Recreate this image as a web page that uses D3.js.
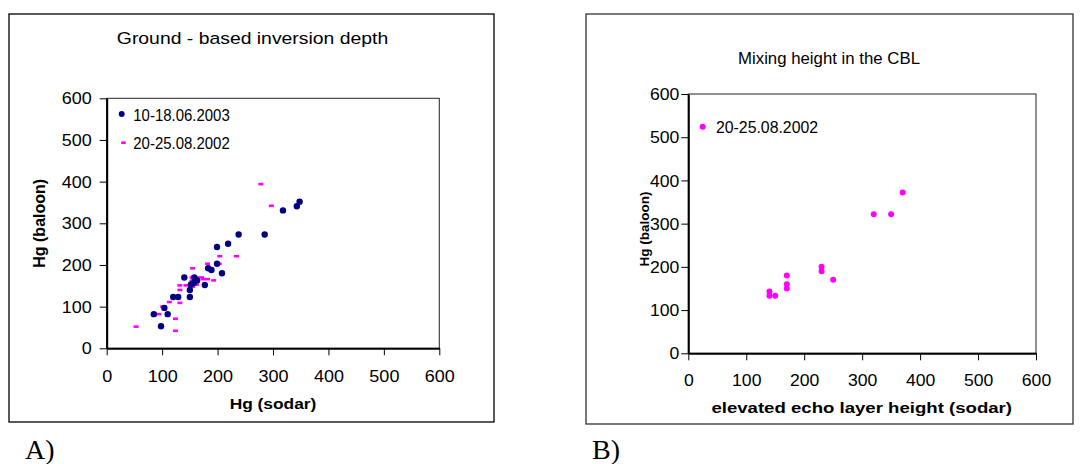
<!DOCTYPE html>
<html><head><meta charset="utf-8">
<script src="https://cdn.jsdelivr.net/npm/d3@7"></script>
<style>body{margin:0;background:#fff}svg{display:block}</style>
</head><body>
<script>
// ---- data ----
const ticks = [0,100,200,300,400,500,600];
const tickLabels = ["0","100","200","300","400","500","600"];
const titleA = "Ground - based inversion depth";
const titleB = "Mixing height in the CBL";
const xLabelA = "Hg (sodar)";
const xLabelB = "elevated echo layer height (sodar)";
const yLabel = "Hg (baloon)";
const seriesNames = ["10-18.06.2003","20-25.08.2002"];
// A) 10-18.06.2003 (sodar, baloon)
const june2003X = [85,98,104,110,120,129,140,150,150,152,157,158,163,177,183,189,199,199,208,219,238,285,318,343,348];
const june2003Y = [82,53,97,82,123,123,170,123,140,153,157,170,163,152,192,188,243,203,180,251,273,273,331,341,352];
// A) 20-25.08.2002
const aug2002X = [53,94,101,104,113,124,124,132,132,132,143,155,154,154,155,163,163,162,171,174,182,182,182,193,203,204,234,278,297];
const aug2002Y = [52,82,100,100,111,71,42,109,140,151,151,192,170,162,148,170,163,153,170,166,166,192,203,163,203,221,221,394,342];
// B) 20-25.08.2002 (elevated echo layer)
const mixX = [140,140,150,170,170,170,230,230,250,320,350,370];
const mixY = [143,133,133,180,160,150,200,190,170,322,322,372];

const W=1080,H=464;
const svg=d3.select("body").append("svg").attr("width",W).attr("height",H);
const SANS="Arial, 'Liberation Sans', sans-serif";
function txt(x,y,s,o){
  o=o||{};
  return svg.append("text")
    .attr("transform",`translate(${x},${y}) rotate(${o.rot||0}) scale(${o.sx||1},1)`)
    .attr("text-anchor",o.anchor||"start")
    .attr("font-family",o.family||SANS)
    .attr("font-size",o.size||16)
    .attr("font-weight",o.weight||"normal")
    .attr("fill","#000")
    .text(s);
}
// boxes
svg.append("rect").attr("x",9).attr("y",14).attr("width",485).attr("height",408)
  .attr("fill","none").attr("stroke","#000").attr("stroke-width",1.3);
svg.append("rect").attr("x",586).attr("y",14).attr("width",487).attr("height",410)
  .attr("fill","none").attr("stroke","#333").attr("stroke-width",1.3);

function panel(cfg){
  const x=d3.scaleLinear([0,600],cfg.xr), y=d3.scaleLinear([0,600],cfg.yr);
  svg.append("rect").attr("x",cfg.xr[0]).attr("y",cfg.yr[1])
    .attr("width",cfg.xr[1]-cfg.xr[0]).attr("height",cfg.yr[0]-cfg.yr[1])
    .attr("fill","none").attr("stroke","#222").attr("stroke-width",1);
  const gx=svg.append("g").attr("transform",`translate(0,${cfg.yr[0]})`)
    .call(d3.axisBottom(x).tickValues(ticks).tickFormat((d,i)=>tickLabels[i]).tickSize(7).tickSizeOuter(0));
  const gy=svg.append("g").attr("transform",`translate(${cfg.xr[0]},0)`)
    .call(d3.axisLeft(y).tickValues(ticks).tickFormat((d,i)=>tickLabels[i]).tickSize(7).tickSizeOuter(0));
  [gx,gy].forEach(g=>{
    g.select(".domain").attr("stroke","#000").attr("stroke-width",2);
    g.selectAll(".tick line").attr("stroke","#000").attr("stroke-width",1);
    g.selectAll(".tick text").attr("font-family",SANS).attr("font-size",cfg.tickSize).attr("fill","#000");
  });
  gx.selectAll(".tick text").attr("dy",null).attr("y",0)
    .attr("transform",`translate(0,${cfg.xTickDy}) scale(${cfg.tickSx},1)`);
  gy.selectAll(".tick text").attr("x",0).attr("dy","0.35em")
    .attr("transform",`translate(${cfg.yTickDx},0) scale(${cfg.tickSx},1)`);
  return {x,y};
}

// ---- Panel A ----
const A=panel({xr:[106.7,439.3],yr:[348.3,98.3],tickSize:16,tickSx:1.125,xTickDy:33.4,yTickDx:-15});
svg.append("g").selectAll("rect").data(aug2002X).join("rect")
  .attr("x",(d,i)=>A.x(d)-2.5).attr("y",(d,i)=>A.y(aug2002Y[i])-1.3)
  .attr("width",5).attr("height",2.6).attr("fill","#ff00ff");
svg.append("g").selectAll("circle").data(june2003X).join("circle")
  .attr("cx",d=>A.x(d)).attr("cy",(d,i)=>A.y(june2003Y[i])).attr("r",3.2).attr("fill","#000080");
txt(252.5,44,titleA,{anchor:"middle",size:17,sx:1.14});
txt(273,409.3,xLabelA,{anchor:"middle",size:15.5,weight:"bold",sx:1.12});
txt(44.5,223.3,yLabel,{anchor:"middle",size:16,weight:"bold",rot:-90});
// legend A
svg.append("circle").attr("cx",121.7).attr("cy",114).attr("r",3).attr("fill","#000080");
txt(133.3,120.7,seriesNames[0],{size:17,sx:0.88});
svg.append("rect").attr("x",121.2).attr("y",141.4).attr("width",4.5).attr("height",2.6).attr("fill","#ff00ff");
txt(133.3,149.3,seriesNames[1],{size:17,sx:0.88});
txt(25,459,"A)",{family:"'Liberation Serif','Times New Roman',serif",size:28});

// ---- Panel B ----
const B=panel({xr:[688.3,1036],yr:[353.3,94],tickSize:16,tickSx:1.1,xTickDy:32.7,yTickDx:-9});
svg.append("g").selectAll("circle").data(mixX).join("circle")
  .attr("cx",d=>B.x(d)).attr("cy",(d,i)=>B.y(mixY[i])).attr("r",3).attr("fill","#ff00ff");
txt(829,64,titleB,{anchor:"middle",size:16,sx:1.05});
txt(861.7,413,xLabelB,{anchor:"middle",size:15.5,weight:"bold",sx:1.2});
txt(649,229,yLabel,{anchor:"middle",size:13.5,weight:"bold",rot:-90});
svg.append("circle").attr("cx",702.7).attr("cy",126.7).attr("r",3).attr("fill","#ff00ff");
txt(716,132.5,seriesNames[1],{size:16,sx:0.99});
txt(592,459,"B)",{family:"'Liberation Serif','Times New Roman',serif",size:28});
</script>
</body></html>
